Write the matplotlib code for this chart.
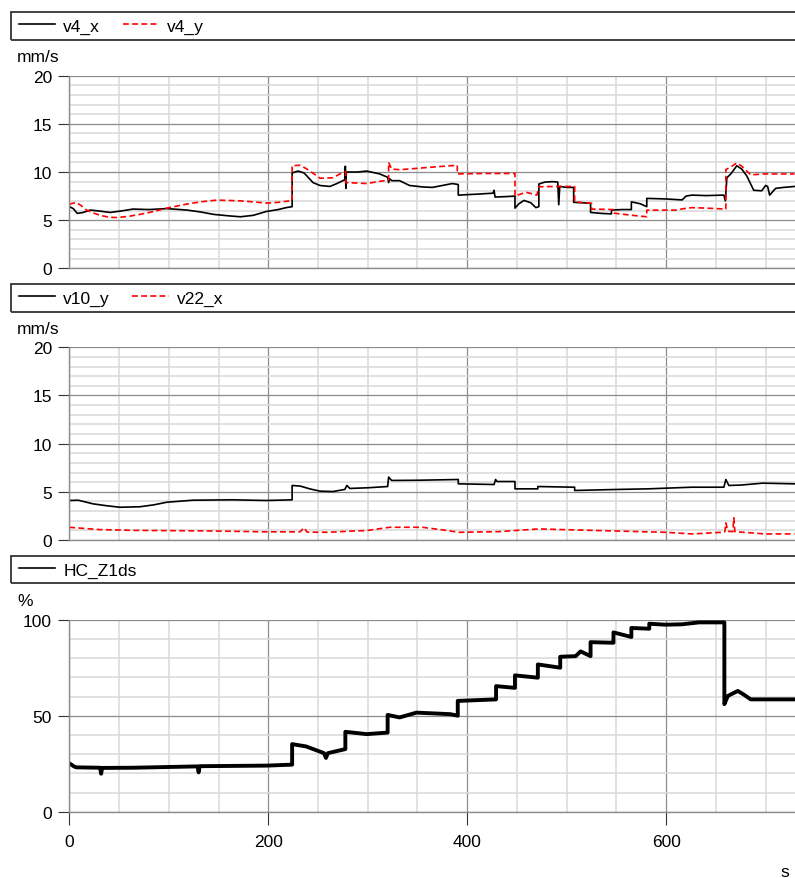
import matplotlib
matplotlib.use("Agg")
import matplotlib.pyplot as plt
from matplotlib.patches import Rectangle
from matplotlib.ticker import MultipleLocator

plt.rcParams['font.family'] = ['Liberation Sans', 'DejaVu Sans']
plt.rcParams['font.size'] = 12.5

# --- Data ---
t_v4x = [0, 4, 8, 14, 21, 30, 41, 52, 64, 80, 98, 118, 132, 145, 160, 172, 185, 198, 210, 218,
         224, 224, 230, 236, 245, 252, 262, 269, 277, 277.5, 278, 278.5, 290, 299, 312, 320, 321,
         322, 324, 332, 342, 355, 365, 375, 385, 391, 391, 410, 426, 427, 428, 440, 448, 448,
         452, 457, 464, 469, 472, 472, 478, 486, 491, 492, 493, 500, 507, 507, 516, 524, 524,
         535, 545, 545, 556, 565, 565, 574, 580.5, 580.5, 600, 616, 620, 626, 640, 658, 659.5,
         661, 665, 671, 676, 681, 688, 696, 700, 702, 704, 710, 718, 729]
v4_x = [6.4, 6.2, 5.7, 5.8, 6.05, 5.95, 5.8, 5.95, 6.15, 6.1, 6.2, 6.05, 5.85, 5.6, 5.45, 5.35,
        5.5, 5.9, 6.1, 6.3, 6.4, 9.9, 10.1, 9.9, 8.9, 8.6, 8.5, 8.8, 9.2, 10.6, 8.3, 10.0, 10.0,
        10.1, 9.8, 9.45, 8.9, 9.3, 9.1, 9.1, 8.6, 8.45, 8.4, 8.6, 8.8, 8.7, 7.6, 7.7, 7.8, 8.1,
        7.4, 7.45, 7.5, 6.25, 6.7, 7.05, 6.8, 6.3, 6.4, 8.75, 8.95, 9.0, 8.95, 6.6, 8.5, 8.4,
        8.4, 6.85, 6.8, 6.75, 5.8, 5.7, 5.65, 6.05, 6.1, 6.1, 6.9, 6.7, 6.4, 7.26, 7.2, 7.1,
        7.5, 7.6, 7.55, 7.6, 7.0, 9.4, 9.8, 10.65, 10.3, 9.6, 8.1, 8.05, 8.6, 8.5, 7.6, 8.3,
        8.4, 8.5]

t_v4y = [0, 7, 12, 17, 24, 31, 40, 48, 60, 71, 85, 98, 110, 118, 132, 148, 160, 172, 185, 198,
         210, 221, 224, 224, 232, 239, 246, 252, 265, 272, 278, 278, 290, 299, 310, 321,
         321, 324, 332, 352, 370, 390, 390, 420, 448, 448, 459, 470, 472, 490, 508, 508,
         525, 525, 547, 547, 566, 580.5, 580.5, 609, 618, 626, 640, 660, 660, 666, 671, 676, 685,
         698, 729]
v4_y = [6.67, 6.84, 6.5, 6.07, 5.75, 5.5, 5.3, 5.27, 5.4, 5.6, 5.9, 6.25, 6.5, 6.67, 6.9, 7.08,
        7.05, 7.0, 6.9, 6.77, 6.85, 7.0, 7.05, 10.66, 10.7, 10.3, 9.8, 9.35, 9.4, 9.8, 10.03,
        8.9, 8.85, 8.8, 9.0, 9.17, 11.0, 10.3, 10.24, 10.4, 10.55, 10.7, 9.8, 9.85, 9.85, 7.5,
        7.9, 7.6, 8.47, 8.5, 8.5, 6.9, 6.75, 6.15, 6.1, 5.73, 5.5, 5.35, 6.04, 6.04, 6.2, 6.3,
        6.25, 6.15, 10.24, 10.6, 10.94, 10.6, 9.7, 9.8, 9.8]

t_v10y = [0, 9, 24, 38, 51, 71, 85, 98, 124, 164, 198, 224, 224, 232, 242, 252, 265, 277, 279,
          282, 300, 320, 321, 324, 350, 391, 391, 427, 428.5, 430, 448, 448, 471, 471, 508, 508,
          548, 582, 626, 658, 660, 663, 675, 697, 729]
v10_y = [4.1, 4.13, 3.75, 3.55, 3.4, 3.45, 3.65, 3.92, 4.13, 4.17, 4.1, 4.17, 5.66, 5.6, 5.3,
         5.07, 5.03, 5.25, 5.66, 5.35, 5.42, 5.55, 6.53, 6.18, 6.2, 6.28, 5.83, 5.76, 6.28,
         6.07, 6.07, 5.31, 5.31, 5.55, 5.48, 5.14, 5.24, 5.31, 5.48, 5.48, 6.28, 5.66, 5.7,
         5.9, 5.83]

t_v22x = [0, 15, 31, 64, 131, 198, 232, 236, 239, 260, 282, 299, 322, 332, 355, 375, 392, 432,
          472, 532, 599, 626, 656, 659, 660, 662, 667, 668, 669, 699, 729]
v22_x = [1.32, 1.2, 1.08, 1.0, 0.95, 0.85, 0.85, 1.28, 0.82, 0.8, 0.92, 0.98, 1.32, 1.32, 1.32,
         1.05, 0.8, 0.87, 1.15, 0.98, 0.8, 0.63, 0.8, 0.85, 1.77, 0.9, 0.87, 2.3, 0.87, 0.63,
         0.63]

t_hc = [0, 5, 7, 31, 32, 33, 64, 129, 130, 131, 198, 224, 224, 238, 256, 258, 260, 277.5, 277.5,
        299, 320, 320, 332, 349, 383, 390.5, 390.5, 429, 429, 448, 448, 471, 471, 493.5, 493.5,
        509, 514, 520, 524, 524, 546, 547, 547, 565, 565, 583, 583, 599, 616, 633, 658.5, 658.5,
        662, 672, 678, 685, 729]
hc_z1ds = [25.2, 23.5, 23.1, 22.9, 19.8, 22.8, 22.9, 23.6, 20.5, 23.7, 24.0, 24.5, 35.2, 34.0,
           30.5, 28.0, 30.5, 32.6, 41.6, 40.4, 41.2, 50.4, 49.1, 51.6, 50.8, 50.0, 57.7, 58.5,
           65.4, 64.5, 71.0, 69.8, 76.7, 75.0, 80.7, 81.0, 83.5, 82.0, 81.0, 88.3, 88.0, 88.0,
           93.4, 91.0, 95.7, 95.3, 97.9, 97.4, 97.6, 98.6, 98.6, 56.0, 60.3, 62.9, 61.0, 58.5,
           58.5]

X_MAX = 729.5
W, H = 795, 879


def fx(px):
    return px / W


def fy(py):
    return (H - py) / H


def style_axis(ax, ymax, ymajor, yminor, show_x):
    ax.set_xlim(0, X_MAX)
    ax.set_ylim(0, ymax)
    ax.xaxis.set_major_locator(MultipleLocator(200))
    ax.xaxis.set_minor_locator(MultipleLocator(50))
    ax.yaxis.set_major_locator(MultipleLocator(ymajor))
    ax.yaxis.set_minor_locator(MultipleLocator(yminor))
    ax.set_axisbelow(True)
    ax.grid(which='major', color='#8c8c8c', linewidth=0.9)
    ax.grid(which='minor', color='#d9d9d9', linewidth=1.1)
    for s in ['top', 'right']:
        ax.spines[s].set_visible(False)
    for s in ['left', 'bottom']:
        ax.spines[s].set_color('#8c8c8c')
        ax.spines[s].set_linewidth(1.0)
    ax.tick_params(which='minor', length=0)
    ax.tick_params(axis='y', which='major', length=8, width=0.8, color='#333333', pad=4.5,
                   labelsize=12.5)
    if show_x:
        ax.tick_params(axis='x', which='major', length=9, width=0.8, color='#333333', pad=7,
                       labelsize=12.5)
    else:
        ax.tick_params(axis='x', which='major', length=0, labelbottom=False)


def legend_box(fig, top_px, bottom_px):
    fig.add_artist(Rectangle((fx(11), fy(bottom_px)), 1.05, (bottom_px - top_px) / H,
                             transform=fig.transFigure, fill=False, edgecolor='#333333',
                             linewidth=1.3))


fig = plt.figure(figsize=(W / 100, H / 100), dpi=100)
left = fx(69.3)
width = 1 - left

# Panel 1
ax1 = fig.add_axes([left, fy(269.3), width, 192.6 / H])
l1, = ax1.plot(t_v4x, v4_x, color='black', linewidth=1.2)
l2, = ax1.plot(t_v4y, v4_y, color='red', linewidth=1.2, linestyle=(0, (3.5, 2)))
style_axis(ax1, 20, 5, 1, False)
legend_box(fig, 13.3, 40.7)
fig.legend([l1, l2], ['v4_x', 'v4_y'], loc='center left', bbox_to_anchor=(fx(19), fy(27)),
           ncol=2, frameon=False, borderpad=0, borderaxespad=0, handlelength=2.1,
           handletextpad=0.45, columnspacing=1.3, fontsize=12.5)
fig.text(fx(17), fy(58), 'mm/s', ha='left', va='center', fontsize=12.5)

# Panel 2
ax2 = fig.add_axes([left, fy(541), width, 192.7 / H])
l3, = ax2.plot(t_v10y, v10_y, color='black', linewidth=1.2)
l4, = ax2.plot(t_v22x, v22_x, color='red', linewidth=1.2, linestyle=(0, (3.5, 2)))
style_axis(ax2, 20, 5, 1, False)
legend_box(fig, 285, 313.3)
fig.legend([l3, l4], ['v10_y', 'v22_x'], loc='center left', bbox_to_anchor=(fx(19), fy(299)),
           ncol=2, frameon=False, borderpad=0, borderaxespad=0, handlelength=2.1,
           handletextpad=0.45, columnspacing=1.3, fontsize=12.5)
fig.text(fx(17), fy(330), 'mm/s', ha='left', va='center', fontsize=12.5)

# Panel 3
ax3 = fig.add_axes([left, fy(812.7), width, 192 / H])
l5, = ax3.plot(t_hc, hc_z1ds, color='black', linewidth=2.8)
style_axis(ax3, 100, 50, 10, True)
legend_box(fig, 557.3, 584.3)
leg_line = plt.Line2D([], [], color='black', linewidth=1.2)
fig.legend([leg_line], ['HC_Z1ds'], loc='center left', bbox_to_anchor=(fx(19), fy(571)),
           frameon=False, borderpad=0, borderaxespad=0, handlelength=2.1,
           handletextpad=0.45, fontsize=12.5)
fig.text(fx(17), fy(601), '%', ha='left', va='center', fontsize=12.5)
fig.text(fx(785), fy(873), 's', ha='center', va='center', fontsize=12.5)

fig.savefig('out.png', dpi=100)
